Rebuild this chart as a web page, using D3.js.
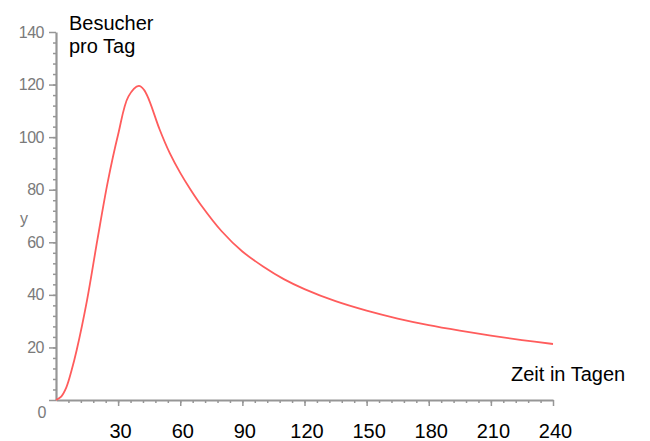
<!DOCTYPE html>
<html>
<head>
<meta charset="utf-8">
<script src="https://cdn.jsdelivr.net/npm/d3@7"></script>
<style>
  body { margin: 0; background: #fff; }
  svg { display: block; font-family: "Liberation Sans", Arial, sans-serif; }
</style>
</head>
<body>
<svg id="chart" width="650" height="441"></svg>
<script>
// days since opening and visitors per day
var days     = [0, 2.5, 5, 7.5, 10, 15, 20, 25, 30, 35, 40, 42.5, 45, 50, 55, 60, 65, 70, 80, 90, 100, 110, 120,
                135, 150, 165, 180, 195, 210, 225, 240];
var visitors = [0, 1.3, 4.8, 11.2, 19, 38, 61, 83, 101, 115.5, 119.5, 118, 114, 103, 93.8, 86.4, 80, 74.2, 64.2, 56.5, 50.8, 46, 42.2,
                37.6, 34, 31, 28.5, 26.4, 24.5, 22.8, 21.3];

var xTicks = [30, 60, 90, 120, 150, 180, 210, 240];
var yTicks = [0, 20, 40, 60, 80, 100, 120, 140];

var svg = d3.select('#chart');

var x = d3.scaleLinear().domain([0, 240]).range([56, 553]);
var y = d3.scaleLinear().domain([0, 140]).range([400, 32]);

var axisGrey = '#969696';

// minor ticks first, majors on top
svg.append('g')
    .attr('transform', 'translate(0,' + y(0) + ')')
    .call(d3.axisBottom(x).tickValues(d3.range(6, 240, 6)).tickSize(3).tickFormat(''))
    .call(function(g) { g.select('.domain').remove(); })
    .selectAll('line').attr('stroke', axisGrey).attr('stroke-width', 1.5);

svg.append('g')
    .attr('transform', 'translate(' + x(0) + ',0)')
    .call(d3.axisLeft(y).tickValues(d3.range(4, 140, 4)).tickSize(3).tickFormat(''))
    .call(function(g) { g.select('.domain').remove(); })
    .selectAll('line').attr('stroke', axisGrey).attr('stroke-width', 1.5);

// x axis, labels in black
var gx = svg.append('g')
    .attr('transform', 'translate(0,' + y(0) + ')')
    .call(d3.axisBottom(x).tickValues(xTicks).tickSize(6).tickSizeOuter(0).tickPadding(18));
gx.select('.domain').attr('stroke', axisGrey).attr('stroke-width', 2.2);
gx.selectAll('line').attr('stroke', axisGrey).attr('stroke-width', 1.5);
gx.selectAll('text')
    .attr('fill', '#000')
    .attr('font-size', 20)
    .attr('dx', 2);

// y axis, labels in grey
var gy = svg.append('g')
    .attr('transform', 'translate(' + x(0) + ',0)')
    .call(d3.axisLeft(y).tickValues(yTicks).tickSize(7).tickSizeOuter(0).tickPadding(5));
gy.select('.domain').attr('stroke', axisGrey).attr('stroke-width', 2.2);
gy.selectAll('line').attr('stroke', axisGrey).attr('stroke-width', 1.5);
gy.selectAll('text')
    .attr('fill', '#7a7a7a')
    .attr('font-size', 16)
    .attr('letter-spacing', -0.5);
// the zero sits a bit lower than its tick
gy.selectAll('.tick').filter(function(d) { return d === 0; })
    .select('text').attr('dy', '1.1em').attr('dx', 2);

svg.append('text')
    .attr('x', 20).attr('y', 224)
    .attr('fill', '#7a7a7a')
    .attr('font-size', 16)
    .text('y');

// the curve
var line = d3.line()
    .x(function(d, i) { return x(days[i]); })
    .y(function(d) { return y(d); })
    .curve(d3.curveCatmullRom.alpha(0.5));

svg.append('path')
    .datum(visitors)
    .attr('fill', 'none')
    .attr('stroke', '#ff5c5c')
    .attr('stroke-width', 1.8)
    .attr('stroke-linejoin', 'round')
    .attr('d', line);

// annotations
svg.append('text').attr('x', 69).attr('y', 30).attr('font-size', 20).text('Besucher');
svg.append('text').attr('x', 69).attr('y', 53).attr('font-size', 20).text('pro Tag');
svg.append('text').attr('x', 511).attr('y', 381).attr('font-size', 20).text('Zeit in Tagen');
</script>
</body>
</html>
